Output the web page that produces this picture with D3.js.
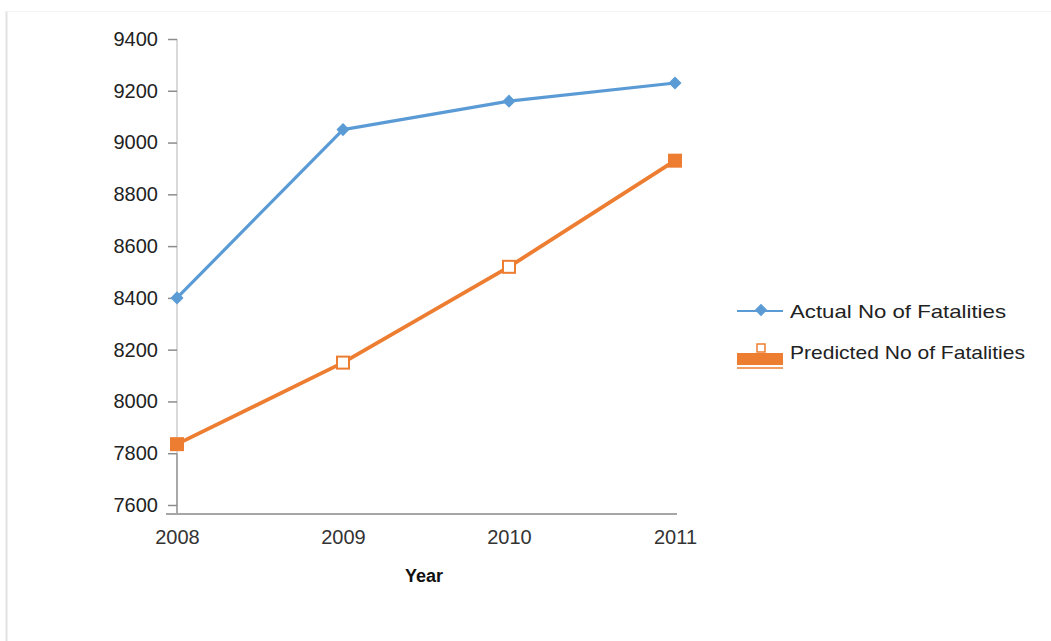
<!DOCTYPE html>
<html><head><meta charset="utf-8">
<script src="https://cdn.jsdelivr.net/npm/d3@7"></script>
<style>
html,body{margin:0;padding:0;background:#fff;}
svg{display:block;}
</style></head>
<body>
<script>
const years = ["2008", "2009", "2010", "2011"];
const actual = [8400, 9050, 9160, 9230];
const predicted = [7835, 8150, 8520, 8930];
const yTicks = [7600, 7800, 8000, 8200, 8400, 8600, 8800, 9000, 9200, 9400];
const seriesNames = ["Actual No of Fatalities", "Predicted No of Fatalities"];
const xTitle = "Year";

const W = 1051, H = 641;
const blue = "#5b9bd5", orange = "#ed7d31";
const font = "'Liberation Sans', Arial, sans-serif";

const svg = d3.select("body").append("svg").attr("width", W).attr("height", H);

// faint frame
svg.append("line").attr("x1", 6.5).attr("x2", 6.5).attr("y1", 11).attr("y2", H).attr("stroke", "#e2e2e2").attr("stroke-width", 2);
svg.append("line").attr("x1", 6).attr("x2", W).attr("y1", 11.5).attr("y2", 11.5).attr("stroke", "#f3f3f3");

const x = d3.scalePoint().domain(years).range([177, 675]);
const y = d3.scaleLinear().domain([7600, 9400]).range([505, 39]);
const axisY0 = 514;

// y axis line (light upper, darker lower)
svg.append("line").attr("x1", 177).attr("x2", 177).attr("y1", y(9400)).attr("y2", y(7800))
  .attr("stroke", "#d9d9d9").attr("stroke-width", 2);
svg.append("line").attr("x1", 177).attr("x2", 177).attr("y1", y(7800)).attr("y2", axisY0)
  .attr("stroke", "#8c8c8c").attr("stroke-width", 1.5);

const yAxis = svg.append("g").attr("transform", "translate(177,0)")
  .call(d3.axisLeft(y).tickValues(yTicks).tickFormat(d3.format("d")).tickSize(9).tickPadding(10));
yAxis.select(".domain").remove();
yAxis.selectAll(".tick line").attr("stroke", "#8c8c8c").attr("stroke-width", 1.5);
yAxis.selectAll(".tick text").attr("font-family", font).attr("font-size", 20).attr("fill", "#222");

// x axis
svg.append("line").attr("x1", 166).attr("x2", 677).attr("y1", axisY0).attr("y2", axisY0)
  .attr("stroke", "#a6a6a6").attr("stroke-width", 2);
const xAxis = svg.append("g").attr("transform", `translate(0,${axisY0})`)
  .call(d3.axisBottom(x).tickSize(0).tickPadding(16));
xAxis.select(".domain").remove();
xAxis.selectAll(".tick text").attr("font-family", font).attr("font-size", 20).attr("fill", "#333");

svg.append("text").attr("x", 424).attr("y", 582).attr("text-anchor", "middle")
  .attr("font-family", font).attr("font-size", 18).attr("font-weight", "bold").attr("fill", "#111").text(xTitle);

// lines
const line = d3.line().x((d, i) => x(years[i])).y(d => y(d));
svg.append("path").datum(actual).attr("d", line).attr("fill", "none").attr("stroke", blue).attr("stroke-width", 3.2).attr("stroke-linejoin", "round");
svg.append("path").datum(predicted).attr("d", line).attr("fill", "none").attr("stroke", orange).attr("stroke-width", 3.8).attr("stroke-linejoin", "round");

// markers (square rotated 45deg = diamond)
const diamond = d3.symbol().type(d3.symbolSquare).size(60);
svg.selectAll(".ma").data(actual).join("path").attr("class", "ma")
  .attr("transform", (d, i) => `translate(${x(years[i])},${y(d)}) rotate(45)`)
  .attr("d", diamond).attr("fill", blue).attr("stroke", blue).attr("stroke-width", 1.5);

const last = predicted.length - 1;
svg.selectAll(".mp").data(predicted).join("rect").attr("class", "mp")
  .attr("x", (d, i) => x(years[i]) - 6).attr("y", d => y(d) - 6)
  .attr("width", 12).attr("height", 12)
  .attr("fill", (d, i) => (i === 0 || i === last) ? orange : "#fff")
  .attr("stroke", orange).attr("stroke-width", 2);

// legend
const lg = svg.append("g");
lg.append("line").attr("x1", 737).attr("x2", 783).attr("y1", 311).attr("y2", 311).attr("stroke", blue).attr("stroke-width", 2);
lg.append("path").attr("transform", "translate(761,310) rotate(45)").attr("d", diamond).attr("fill", blue).attr("stroke", blue);
lg.append("text").attr("x", 790).attr("y", 318).attr("font-family", font).attr("font-size", 19)
  .attr("fill", "#222").attr("textLength", 216).attr("lengthAdjust", "spacingAndGlyphs").text(seriesNames[0]);

lg.append("rect").attr("x", 737).attr("y", 353).attr("width", 46).attr("height", 12).attr("fill", orange);
lg.append("rect").attr("x", 757).attr("y", 344).attr("width", 8).attr("height", 8).attr("fill", "#fff").attr("stroke", orange).attr("stroke-width", 1.5);
lg.append("line").attr("x1", 737).attr("x2", 783).attr("y1", 368).attr("y2", 368).attr("stroke", orange).attr("stroke-width", 1.5);
lg.append("text").attr("x", 790).attr("y", 359).attr("font-family", font).attr("font-size", 19)
  .attr("fill", "#222").attr("textLength", 235).attr("lengthAdjust", "spacingAndGlyphs").text(seriesNames[1]);
</script>
</body></html>
